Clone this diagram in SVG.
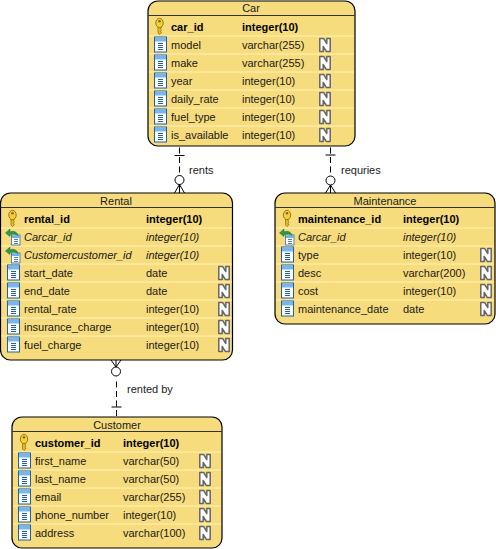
<svg xmlns="http://www.w3.org/2000/svg" xmlns:xlink="http://www.w3.org/1999/xlink" width="496" height="549" viewBox="0 0 496 549">
<style>
text{font-family:"Liberation Sans",Arial,sans-serif;font-size:11px;fill:#1a1a1a}
.t{text-anchor:middle}
.b{font-weight:bold;fill:#000}
.i{font-style:italic}
.box{fill:#f6dc7d;stroke:#000;stroke-width:1.2}
.hd{stroke:#333;stroke-width:1;fill:none}
.sep{stroke:#fff3b8;stroke-width:1;fill:none}
.conn{stroke:#000;stroke-width:1;fill:none}
.dash{stroke-dasharray:6 3.5}
</style>
<defs>
<g id="key"><path d="M-1.500 -2 V6 L0 7.500 L1.700 6 V5 L.9 4.200 L1.700 3.500 V2.500 L.9 1.800 L1.700 1 V-2 Z" fill="#e8b820" stroke="#8a6a10" stroke-width=".7"/><ellipse cx="0" cy="-4" rx="3.700" ry="4.700" fill="#f5cf3a" stroke="#9a7810"/><ellipse cx="0" cy="-5.800" rx="1.300" ry="1.200" fill="#8a6a10"/></g>
<g id="col"><rect x="-5.500" y="-8" width="12" height="15" fill="#fff" stroke="#1f5fa8"/><rect x="-5" y="-7.500" width="11" height="4" fill="#7ab6ec"/><path d="M-2 -1.500H3M-2 .5H3M-2 2.500H3M-2 4.500H3" stroke="#1f5fa8" stroke-width="1"/></g>
<g id="fk"><rect x="-1.500" y="-2" width="8.500" height="10" fill="#fff" stroke="#2a6cb8" stroke-width=".8"/><rect x="-1" y="-1.500" width="7.500" height="2.500" fill="#6fb0e8"/><path d="M1 2.500H5M1 4.500H5M1 6.500H5" stroke="#1f5fa8" stroke-width=".8"/><path d="M5 -1.500 C4 -5.500 0 -6.500 -3 -5 L-3 -8 L-7.500 -4 L-3 -.5 L-3 -2.500 C0 -3.500 3 -3 5 -1.500 Z" fill="#2f9a4a" stroke="#1a6a30" stroke-width=".5"/></g>
<g id="n"><path d="M-5.200 -6.400 H-1.300 L1.800 -1.500 V-6.400 H5.200 V6.400 H1.300 L-1.800 1.500 V6.400 H-5.200 Z" fill="#fff" stroke="#666" stroke-width="1.500" stroke-linejoin="round"/></g>
</defs>
<g id="connectors">
<path class="conn dash" d="M179.500 147.500V176"/><path class="conn" d="M174.500 155.500H184.500"/><circle class="conn" cx="179.500" cy="180" r="4.500"/><path class="conn" d="M179.500 184.500L174.500 193M179.500 184.500V193M179.500 184.500L184.500 193"/>
<path class="conn dash" d="M330.500 147.500V176"/><path class="conn" d="M325.500 155H335.500"/><circle class="conn" cx="330.500" cy="180.500" r="4.500"/><path class="conn" d="M330.500 185L325.500 193M330.500 185V193M330.500 185L335.500 193"/>
<path class="conn dash" d="M116.500 381.500V417"/><path class="conn" d="M111.500 407H121.500"/><circle class="conn" cx="116" cy="371.500" r="4.500"/><path class="conn" d="M116 367L111 360M116 367V360M116 367L121 360"/>
<text x="189" y="174">rents</text><text x="341" y="174">requries</text><text x="127" y="393">rented by</text>
</g>
<g id="car">
<rect class="box" x="148" y="1" width="207" height="145" rx="10"/><path class="hd" d="M148 15.500H355"/><path class="sep" d="M149 36H354M149 54H354M149 72H354M149 90H354M149 108H354M149 126H354"/>
<text class="t" x="251" y="12">Car</text>
<use href="#key" x="159.500" y="27"/><text class="b" x="171" y="31">car_id</text><text class="b" x="242" y="31">integer(10)</text>
<use href="#col" x="160" y="45"/><text x="171" y="49">model</text><text x="242" y="49">varchar(255)</text><use href="#n" x="325" y="45"/>
<use href="#col" x="160" y="63"/><text x="171" y="67">make</text><text x="242" y="67">varchar(255)</text><use href="#n" x="325" y="63"/>
<use href="#col" x="160" y="81"/><text x="171" y="85">year</text><text x="242" y="85">integer(10)</text><use href="#n" x="325" y="81"/>
<use href="#col" x="160" y="99"/><text x="171" y="103">daily_rate</text><text x="242" y="103">integer(10)</text><use href="#n" x="325" y="99"/>
<use href="#col" x="160" y="117"/><text x="171" y="121">fuel_type</text><text x="242" y="121">integer(10)</text><use href="#n" x="325" y="117"/>
<use href="#col" x="160" y="135"/><text x="171" y="139">is_available</text><text x="242" y="139">integer(10)</text><use href="#n" x="325" y="135"/>
</g>
<g id="rental">
<rect class="box" x="0.500" y="193" width="232" height="167" rx="10"/><path class="hd" d="M0.500 207.500H232.500"/><path class="sep" d="M1 228H232M1 246H232M1 264H232M1 282H232M1 300H232M1 318H232M1 336H232"/>
<text class="t" x="116" y="205">Rental</text>
<use href="#key" x="12.500" y="219"/><text class="b" x="24" y="223">rental_id</text><text class="b" x="146" y="223">integer(10)</text>
<use href="#fk" x="13" y="237"/><text class="i" x="24" y="241">Carcar_id</text><text class="i" x="146" y="241">integer(10)</text>
<use href="#fk" x="13" y="255"/><text class="i" x="24" y="259">Customercustomer_id</text><text class="i" x="146" y="259">integer(10)</text>
<use href="#col" x="13" y="273"/><text x="24" y="277">start_date</text><text x="146" y="277">date</text><use href="#n" x="224" y="273"/>
<use href="#col" x="13" y="291"/><text x="24" y="295">end_date</text><text x="146" y="295">date</text><use href="#n" x="224" y="291"/>
<use href="#col" x="13" y="309"/><text x="24" y="313">rental_rate</text><text x="146" y="313">integer(10)</text><use href="#n" x="224" y="309"/>
<use href="#col" x="13" y="327"/><text x="24" y="331">insurance_charge</text><text x="146" y="331">integer(10)</text><use href="#n" x="224" y="327"/>
<use href="#col" x="13" y="345"/><text x="24" y="349">fuel_charge</text><text x="146" y="349">integer(10)</text><use href="#n" x="224" y="345"/>
</g>
<g id="maintenance">
<rect class="box" x="275" y="193" width="220" height="131" rx="10"/><path class="hd" d="M275 207.500H495"/><path class="sep" d="M276 228H494M276 246H494M276 264H494M276 282H494M276 300H494"/>
<text class="t" x="385" y="205">Maintenance</text>
<use href="#key" x="287" y="219"/><text class="b" x="298" y="223">maintenance_id</text><text class="b" x="403" y="223">integer(10)</text>
<use href="#fk" x="287" y="237"/><text class="i" x="298" y="241">Carcar_id</text><text class="i" x="403" y="241">integer(10)</text>
<use href="#col" x="287" y="255"/><text x="298" y="259">type</text><text x="403" y="259">integer(10)</text><use href="#n" x="486" y="255"/>
<use href="#col" x="287" y="273"/><text x="298" y="277">desc</text><text x="403" y="277">varchar(200)</text><use href="#n" x="486" y="273"/>
<use href="#col" x="287" y="291"/><text x="298" y="295">cost</text><text x="403" y="295">integer(10)</text><use href="#n" x="486" y="291"/>
<use href="#col" x="287" y="309"/><text x="298" y="313">maintenance_date</text><text x="403" y="313">date</text><use href="#n" x="486" y="309"/>
</g>
<g id="customer">
<rect class="box" x="12" y="417" width="210" height="131" rx="10"/><path class="hd" d="M12 431.500H222"/><path class="sep" d="M13 452H221M13 470H221M13 488H221M13 506H221M13 524H221"/>
<text class="t" x="117" y="429">Customer</text>
<use href="#key" x="24" y="443"/><text class="b" x="35" y="447">customer_id</text><text class="b" x="123" y="447">integer(10)</text>
<use href="#col" x="24" y="461"/><text x="35" y="465">first_name</text><text x="123" y="465">varchar(50)</text><use href="#n" x="205" y="461"/>
<use href="#col" x="24" y="479"/><text x="35" y="483">last_name</text><text x="123" y="483">varchar(50)</text><use href="#n" x="205" y="479"/>
<use href="#col" x="24" y="497"/><text x="35" y="501">email</text><text x="123" y="501">varchar(255)</text><use href="#n" x="205" y="497"/>
<use href="#col" x="24" y="515"/><text x="35" y="519">phone_number</text><text x="123" y="519">integer(10)</text><use href="#n" x="205" y="515"/>
<use href="#col" x="24" y="533"/><text x="35" y="537">address</text><text x="123" y="537">varchar(100)</text><use href="#n" x="205" y="533"/>
</g>
</svg>
